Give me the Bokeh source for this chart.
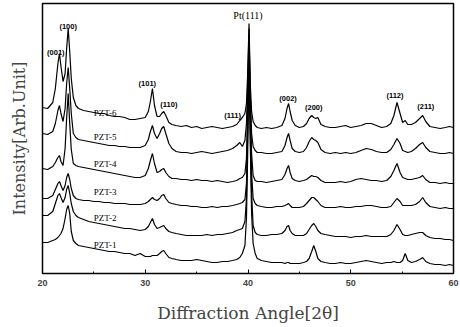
from bokeh.plotting import figure
from bokeh.models import Range1d, FixedTicker
from bokeh.embed import file_html
from bokeh.resources import INLINE
from bokeh.core.properties import value

two_theta = [20.0, 20.5, 21.0, 21.25, 21.5, 21.65, 21.8, 22.0, 22.2, 22.35, 22.5, 22.65, 22.8, 23.0, 23.25, 23.5,
             24.0, 24.5, 25.0, 25.5, 26.0, 26.5, 27.0, 27.5, 28.0, 28.5, 29.0, 29.5, 30.0,
             30.3, 30.5, 30.7, 30.9, 31.15, 31.4, 31.6, 31.8, 32.0, 32.3, 32.6,
             33.0, 33.5, 34.0, 34.5, 35.0, 35.5, 36.0, 36.5, 37.0, 37.5, 38.0, 38.5,
             38.9, 39.2, 39.45, 39.7, 39.85, 39.97, 40.1, 40.22, 40.35, 40.5, 40.7, 40.9,
             41.3, 41.8, 42.3, 42.8, 43.3, 43.6, 43.8, 43.95, 44.1, 44.3, 44.6, 45.0, 45.4, 45.7, 45.95, 46.2, 46.4, 46.6, 46.8, 47.1, 47.5,
             48.0, 48.5, 49.0, 49.5, 50.0, 50.5, 51.0, 51.5, 52.0, 52.5, 53.0, 53.5,
             53.9, 54.2, 54.5, 54.8, 55.05, 55.3, 55.55, 55.9, 56.3, 56.7, 57.0, 57.3, 57.7,
             58.2, 58.7, 59.2, 59.6, 60.0]

pzt6 = [166, 165, 171, 185, 210, 220, 207, 192, 200, 225, 245, 222, 195, 176, 168, 165,
        163, 162, 161, 160, 160, 158, 157, 157, 156, 154, 154, 155, 156,
        162, 172, 185, 168, 157, 157, 160, 162, 158, 151, 149,
        148, 147, 148, 146, 147, 145, 146, 147, 146, 145, 146, 147,
        149, 153, 156, 160, 170, 200, 250, 190, 162, 152, 148, 146,
        145, 146, 145, 146, 148, 155, 165, 170, 162, 153, 148, 146, 147, 150, 155, 158, 156, 155, 156, 149, 147,
        146, 146, 147, 148, 146, 147, 148, 150, 150, 148, 146, 147,
        150, 158, 171, 160, 151, 153, 149, 149, 151, 155, 158, 152, 147,
        146, 145, 146, 147, 146]
pzt5 = [140, 139, 142, 150, 163, 168, 160, 152, 165, 190, 206, 185, 160, 140, 136, 134,
        133, 132, 131, 130, 129, 128, 128, 127, 127, 126, 126, 126, 128,
        134, 142, 148, 140, 135, 140, 145, 147, 140, 130, 125,
        122, 121, 121, 120, 121, 122, 121, 120, 121, 122, 123, 125,
        128, 131, 127, 133, 150, 190, 245, 180, 140, 127, 123, 121,
        121, 120, 120, 121, 122, 128, 136, 140, 133, 125, 122, 121, 122, 126, 132, 136, 134, 133, 131, 124, 121,
        120, 121, 120, 121, 120, 121, 123, 125, 124, 122, 121, 121,
        124, 129, 135, 130, 123, 122, 121, 122, 125, 129, 131, 126, 122,
        121, 120, 120, 121, 120]
pzt4 = [105, 104, 107, 111, 116, 118, 112, 108, 125, 155, 180, 150, 124, 110, 108, 107,
        106, 105, 104, 103, 102, 101, 100, 99, 98, 97, 96, 96, 98,
        105, 113, 120, 110, 101, 102, 104, 105, 101, 97, 95,
        95, 94, 94, 93, 94, 93, 93, 92, 93, 92, 91, 92,
        93, 95, 96, 100, 115, 170, 238, 170, 120, 98, 93, 92,
        92, 91, 92, 93, 94, 99, 105, 108, 101, 95, 93, 92, 93, 94, 96, 98, 97, 97, 96, 93, 91,
        91, 91, 92, 91, 92, 94, 95, 94, 93, 93, 92, 93,
        97, 103, 110, 101, 96, 95, 94, 94, 95, 96, 98, 94, 91,
        91, 90, 91, 90, 90]
pzt3 = [75, 75, 78, 84, 90, 92, 88, 83, 88, 96, 100, 94, 85, 78, 75, 74,
        73, 73, 72, 72, 71, 71, 70, 70, 70, 69, 69, 69, 70,
        72, 74, 76, 74, 73, 75, 78, 79, 75, 71, 70,
        69, 68, 68, 67, 67, 66, 66, 67, 66, 67, 67, 68,
        69, 70, 71, 74, 90, 150, 230, 155, 100, 75, 70, 68,
        67, 66, 66, 67, 67, 68, 69, 70, 68, 66, 66, 66, 67, 70, 73, 76, 76, 74, 72, 68, 66,
        66, 66, 67, 66, 66, 67, 67, 68, 68, 67, 66, 66,
        67, 71, 75, 72, 68, 68, 68, 68, 69, 72, 76, 71, 67,
        66, 65, 66, 65, 65]
pzt2 = [58, 58, 62, 70, 78, 80, 76, 71, 76, 84, 88, 80, 70, 62, 58, 56,
        54, 52, 51, 50, 49, 48, 47, 46, 45, 45, 44, 43, 44,
        47, 51, 55, 49, 45, 46, 47, 48, 45, 42, 41,
        40, 39, 38, 38, 38, 38, 39, 38, 39, 39, 40, 41,
        43, 44, 45, 52, 75, 140, 222, 140, 80, 48, 41, 39,
        38, 38, 39, 39, 40, 43, 47, 48, 43, 40, 38, 38, 38, 40, 44, 48, 50, 47, 43, 40, 39,
        38, 37, 37, 37, 36, 37, 37, 38, 37, 37, 37, 37,
        39, 43, 49, 44, 39, 38, 38, 39, 40, 41, 41, 38, 36,
        35, 35, 34, 34, 33]
pzt1 = [31, 31, 33, 34, 36, 38, 40, 45, 55, 64, 68, 60, 42, 33, 30, 28,
        27, 26, 25, 24, 23, 22, 22, 21, 20, 20, 18, 20, 17,
        17, 17, 18, 18, 18, 20, 22, 23, 20, 16, 15,
        14, 13, 13, 13, 14, 13, 12, 11, 11, 12, 12, 13,
        14, 16, 20, 28, 55, 120, 215, 130, 60, 30, 20, 15,
        13, 12, 11, 11, 11, 10, 11, 11, 10, 10, 10, 10, 11, 12, 15, 22, 28, 22, 15, 12, 11,
        10, 10, 11, 10, 10, 11, 12, 13, 12, 11, 10, 11,
        11, 12, 11, 11, 13, 20, 13, 11, 12, 14, 16, 12, 10,
        9, 9, 8, 9, 8]

sample_names = ["PZT-6", "PZT-5", "PZT-4", "PZT-3", "PZT-2", "PZT-1"]
sample_label_x = 26.1
sample_label_y = [161, 137, 110, 82, 56, 29]

peak_names = ["(001)", "(100)", "(101)", "(110)", "(111)", "(002)", "(200)", "(112)", "(211)"]
peak_x = [21.3, 22.5, 30.2, 32.3, 38.5, 43.9, 46.4, 54.3, 57.3]
peak_y = [221, 247, 190, 169, 158, 175, 166, 178, 167]
pt_name = "Pt(111)"
pt_x = 40.0
pt_y = 258

x_ticks = [20, 30, 40, 50, 60]
x_minor = [25, 35, 45, 55]

p = figure(width=460, height=327, output_backend="svg", toolbar_location=None,
           x_range=Range1d(20, 60), y_range=Range1d(0, 270),
           min_border_left=42, min_border_right=7, min_border_top=3, min_border_bottom=54)
p.background_fill_color = "white"
p.border_fill_color = "white"
p.outline_line_color = "black"
p.outline_line_width = 1.5
p.xgrid.visible = False
p.ygrid.visible = False

for ys in [pzt6, pzt5, pzt4, pzt3, pzt2, pzt1]:
    p.line(two_theta, ys, line_color="black", line_width=1.2)

p.text(x=[sample_label_x] * len(sample_names), y=sample_label_y, text=sample_names,
       text_font=value("Liberation Serif"), text_font_size="9px", text_color="black",
       text_align="center", text_baseline="middle")
p.text(x=peak_x, y=peak_y, text=peak_names,
       text_font=value("Liberation Sans"), text_font_size="7.5px", text_font_style="bold",
       text_color="black", text_align="center", text_baseline="middle")
p.text(x=[pt_x], y=[pt_y], text=[pt_name],
       text_font=value("Liberation Serif"), text_font_size="10px", text_color="black",
       text_align="center", text_baseline="middle")

p.xaxis.ticker = FixedTicker(ticks=x_ticks, minor_ticks=x_minor)
p.xaxis.major_tick_in = 4
p.xaxis.major_tick_out = 0
p.xaxis.minor_tick_in = 2
p.xaxis.minor_tick_out = 0
p.xaxis.axis_line_color = "black"
p.xaxis.major_label_text_font = "Liberation Sans"
p.xaxis.major_label_text_font_style = "bold"
p.xaxis.major_label_text_font_size = "9px"
p.xaxis.major_label_standoff = 6
p.xaxis.axis_label = "Diffraction Angle[2\u03b8]"
p.xaxis.axis_label_text_font = "DejaVu Serif"
p.xaxis.axis_label_text_font_style = "normal"
p.xaxis.axis_label_text_font_size = "17px"
p.xaxis.axis_label_standoff = 14

p.yaxis.ticker = FixedTicker(ticks=[])
p.yaxis.major_tick_in = 0
p.yaxis.major_tick_out = 0
p.yaxis.minor_tick_in = 0
p.yaxis.minor_tick_out = 0
p.yaxis.axis_label = "Intensity[Arb.Unit]"
p.yaxis.axis_label_text_font = "DejaVu Serif"
p.yaxis.axis_label_text_font_style = "normal"
p.yaxis.axis_label_text_font_size = "16px"
p.yaxis.axis_label_standoff = 14

open("out.html", "w").write(file_html(p, INLINE))
